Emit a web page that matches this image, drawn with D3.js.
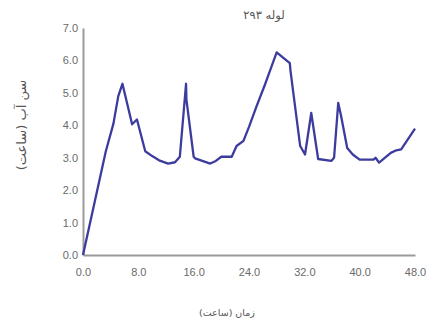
<!DOCTYPE html>
<html><head><meta charset="utf-8">
<script src="https://cdn.jsdelivr.net/npm/d3@7"></script>
<style>body{margin:0;background:#fff}svg{display:block}</style>
</head><body>
<svg id="c" width="430" height="323"></svg>
<script>
const hours = [0,3.3,4.4,5.1,5.7,7.1,7.8,9.0,10.0,11.0,12.3,13.3,14.0,14.9,14.95,16.0,16.2,18.4,19.2,20.0,21.5,22.2,23.2,24.0,25.1,26.3,27.0,28.0,29.9,30.0,31.4,32.1,33.0,34.0,35.9,36.3,36.9,37.3,38.2,39.0,40.0,42.0,42.3,42.8,44.5,45.3,46.0,48.0];
const waterAge = [0,3.2,4.05,4.9,5.28,4.03,4.18,3.2,3.05,2.92,2.82,2.86,3.03,5.28,4.8,3.03,2.98,2.82,2.9,3.03,3.03,3.36,3.52,3.95,4.59,5.25,5.66,6.25,5.92,5.68,3.36,3.1,4.38,2.96,2.9,3.0,4.69,4.3,3.3,3.1,2.94,2.94,3.0,2.85,3.15,3.23,3.26,3.9];
const xTicks = [0,8,16,24,32,40,48];
const yTicks = [0,1,2,3,4,5,6,7];
const title = "لوله ۲۹۳";
const xTitle = "زمان (ساعت)";
const yTitle = "سن آب (ساعت)";

const svg = d3.select("#c");
const x = d3.scaleLinear().domain([0,48]).range([83,415]);
const y = d3.scaleLinear().domain([0,7]).range([255,28]);

const gy = svg.append("g").attr("transform","translate(83,0)")
  .call(d3.axisLeft(y).tickValues(yTicks).tickSize(0).tickPadding(5).tickFormat(d3.format(".1f")));
const gx = svg.append("g").attr("transform","translate(0,255)")
  .call(d3.axisBottom(x).tickValues(xTicks).tickSize(0).tickPadding(13).tickFormat(d3.format(".1f")));
[gx,gy].forEach(g=>{
  g.select(".domain").attr("stroke","#9a9a9a").attr("stroke-width",2);
  g.selectAll("text").attr("fill","#6a6a6a").style("font-family","Liberation Sans, Arial, sans-serif").style("font-size","11px");
});

const line = d3.line().x((d,i)=>x(hours[i])).y(d=>y(d));
svg.append("path").datum(waterAge).attr("d",line)
  .attr("fill","none").attr("stroke","#3c3c9e").attr("stroke-width",2.3).attr("stroke-linejoin","round");

svg.append("text").attr("x",264).attr("y",19).attr("text-anchor","middle")
  .style("font-family","DejaVu Sans, sans-serif").style("font-size","11.5px").attr("fill","#555").text(title);
svg.append("text").attr("x",227).attr("y",316).attr("text-anchor","middle")
  .style("font-family","DejaVu Sans, sans-serif").style("font-size","9.5px").attr("fill","#555").text(xTitle);
svg.append("text").attr("transform","translate(26,125) rotate(-90)").attr("text-anchor","middle")
  .style("font-family","DejaVu Sans, sans-serif").style("font-size","13px").attr("fill","#555").text(yTitle);
</script>
</body></html>
